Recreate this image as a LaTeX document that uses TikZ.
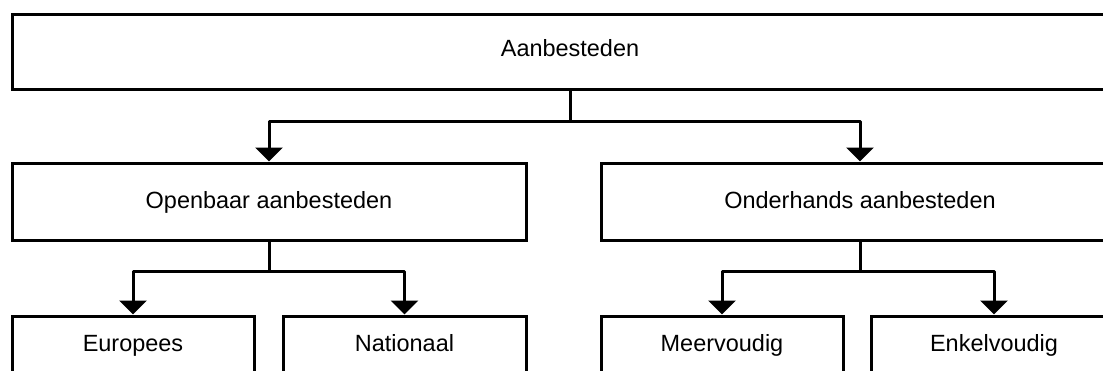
\documentclass[tikz,border=0pt]{standalone}
\usepackage{fontspec}
\setmainfont{Liberation Sans}
\usetikzlibrary{arrows.meta}
\begin{document}
\begin{tikzpicture}[x=0.75pt,y=-0.75pt,
  box/.style={draw=black, line width=2.25pt, rectangle, inner sep=0pt,
    font=\fontsize{17.6pt}{20pt}\selectfont, text height=0.72em, text depth=0pt},
  midbox/.style={box, minimum height=57.75pt, text height=0.72em+3.8pt},
  lowbox/.style={box, minimum width=181.5pt, minimum height=46.5pt},
  link/.style={line width=2.25pt, line join=round},
  arr/.style={link, -{Triangle[width=20.25pt, length=10.5pt]}}]
\useasboundingbox (0,0) rectangle (1103,371);
\clip (0,0) rectangle (1103,371);
\node[box, minimum width=837pt, minimum height=56.25pt] (top) at (570,51.5) {Aanbesteden};
\node[midbox, minimum width=385.5pt] (mid1) at (269,201.5) {Openbaar aanbesteden};
\node[midbox, minimum width=388.5pt] (mid2) at (860,201.5) {Onderhands aanbesteden};
\node[lowbox] (b1) at (133,347) {Europees};
\node[lowbox, minimum width=182.25pt] (b2) at (404.5,347) {Nationaal};
\node[lowbox] (b3) at (722,347) {Meervoudig};
\node[lowbox, minimum width=184.5pt] (b4) at (994,347) {Enkelvoudig};
\draw[link] (top.south) -- ++(0,31) coordinate (j0);
\draw[arr] (j0) -| (mid1.north);
\draw[arr] (j0) -| (mid2.north);
\draw[link] (mid1.south) -- ++(0,30) coordinate (j1);
\draw[arr] (j1) -| (b1.north);
\draw[arr] (j1) -| (b2.north);
\draw[link] (mid2.south) -- ++(0,30) coordinate (j2);
\draw[arr] (j2) -| (b3.north);
\draw[arr] (j2) -| (b4.north);
\end{tikzpicture}
\end{document}
